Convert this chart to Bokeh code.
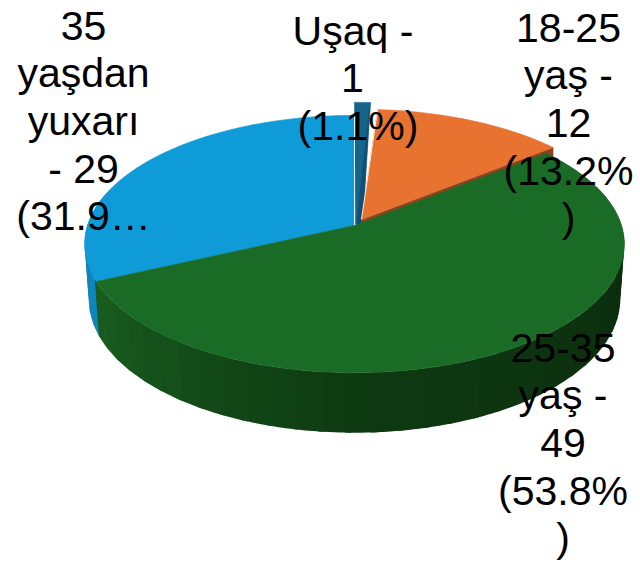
import math
from bokeh.plotting import figure
from bokeh.embed import file_html
from bokeh.resources import INLINE
from bokeh.core.properties import value

categories = ["Uşaq", "18-25 yaş", "25-35 yaş", "35 yaşdan yuxarı"]
counts = [1, 12, 49, 29]
top_colors = ["#17648a", "#e87331", "#1a6b26", "#0f9bd7"]
side_colors = ["#124f72", "#8a4620", "#14551e", "#0e86bb"]
explode = [(0, -13), (7, -6), (0, 0), (0, 0)]

label_lines = [
    ["Uşaq -", "1", "(1.1%)"],
    ["18-25", "yaş -", "12", "(13.2%", ")"],
    ["25-35", "yaş -", "49", "(53.8%", ")"],
    ["35", "yaşdan", "yuxarı", "- 29", "(31.9…"],
]
label_x = [[352.5, 352, 357.5], [568] * 5, [562.5] * 5, [83] * 5]
label_y = [30, 27, 347, 25]
line_step = 47.7

CX, CY, A, B, K = 354, 225, 126, 267, 0.144


def top_pt(t, off=(0, 0)):
    s, c = math.sin(t), math.cos(t)
    d = 1 + K * c
    return CX + B * s / d + off[0], CY - A * c / d + off[1]


def bot_pt(t, off=(0, 0)):
    x, y = top_pt(t, off)
    c = math.cos(t)
    return CX + off[0] + (x - CX - off[0]) * 0.985, y + 54 - 6 * c


def arc(a0, a1, fn, off=(0, 0), step=1.0):
    n = max(2, int(abs(math.degrees(a1 - a0)) / step) + 1)
    return [fn(a0 + (a1 - a0) * i / (n - 1), off) for i in range(n)]


total = sum(counts)
edges = [0.0]
for v in counts:
    edges.append(edges[-1] + v / total * 2 * math.pi)

p = figure(width=640, height=562, x_range=(0, 640), y_range=(562, 0),
           toolbar_location=None, output_backend="svg", min_border=0,
           outline_line_color=None, background_fill_color="white")
p.axis.visible = False
p.grid.visible = False


def poly(pts, color, lw=0.6):
    p.patch([q[0] for q in pts], [q[1] for q in pts], fill_color=color,
            line_color=color, line_width=lw)


def wedge(i):
    off = explode[i]
    return [(CX + off[0], CY + off[1])] + arc(edges[i], edges[i + 1], top_pt, off)


def side_strips(i, base):
    off = explode[i]
    n = int(math.degrees(edges[i + 1] - edges[i]) / 5) + 1
    for j in range(n):
        a = edges[i] + (edges[i + 1] - edges[i]) * j / n
        b = edges[i] + (edges[i + 1] - edges[i]) * (j + 1) / n
        if math.cos((a + b) / 2) > 0.3 and i != 2:
            continue
        pts = arc(a, b + 0.02, top_pt, off) + arc(b + 0.02, a, bot_pt, off)
        poly(pts, base((a + b) / 2), lw=0)


def green_shade(t):
    # rim shading: lighter at the far left, darkest toward the right
    d = math.degrees(t)
    stops = [(90, (11, 44, 14)), (180, (14, 58, 18)), (245, (26, 94, 32))]
    if d <= stops[0][0]:
        g = stops[0][1]
    else:
        for (d0, c0), (d1, c1) in zip(stops, stops[1:]):
            if d <= d1:
                f = (d - d0) / (d1 - d0)
                g = tuple(c0[k] + (c1[k] - c0[k]) * f for k in range(3))
                break
        else:
            g = stops[-1][1]
    return "#%02x%02x%02x" % tuple(int(v) for v in g)


# blue slice
side_strips(3, lambda t: side_colors[3])
poly(wedge(3), top_colors[3])

# Uşaq slice: cut face then top face
u = explode[0]
rim = arc(edges[0], edges[1], top_pt, u)
poly([(CX + 1, CY - 1)] + rim + [(CX + 8, CY - 3)], top_colors[0])
poly([(rim[-1][0] - 1, rim[-1][1] + 5), (CX + 8, CY - 3), (CX + 2, CY - 1)], side_colors[0])

# orange slice: cut face under the leading edge
o = explode[1]
o_rim = arc(edges[1], edges[2], top_pt, o)
o_apex = (CX + o[0], CY + o[1])
poly([o_apex, o_rim[-1], (o_rim[-1][0], o_rim[-1][1] + 12), (o_apex[0], o_apex[1] + 12)], side_colors[1])
poly(wedge(1), top_colors[1])

# thin pale separators beside the small slice
blue_edge = top_pt(edges[0])
p.line([blue_edge[0], CX], [blue_edge[1], CY], line_color="#dfeef5", line_width=1)
oe = top_pt(edges[1], o)
p.line([oe[0], o_apex[0]], [oe[1], o_apex[1]], line_color="#f6e4d8", line_width=1)

# green slice
side_strips(2, green_shade)
poly(wedge(2), top_colors[2])

# labels
xs, ys, ts = [], [], []
for lines, lxs, ly in zip(label_lines, label_x, label_y):
    for k, t in enumerate(lines):
        xs.append(lxs[k])
        ys.append(ly + k * line_step)
        ts.append(t)
p.text(xs, ys, text=ts, text_font=value("Liberation Sans"), text_font_size="41px",
       text_color="black", text_align="center", text_baseline="middle")

open("out.html", "w").write(file_html(p, INLINE))
